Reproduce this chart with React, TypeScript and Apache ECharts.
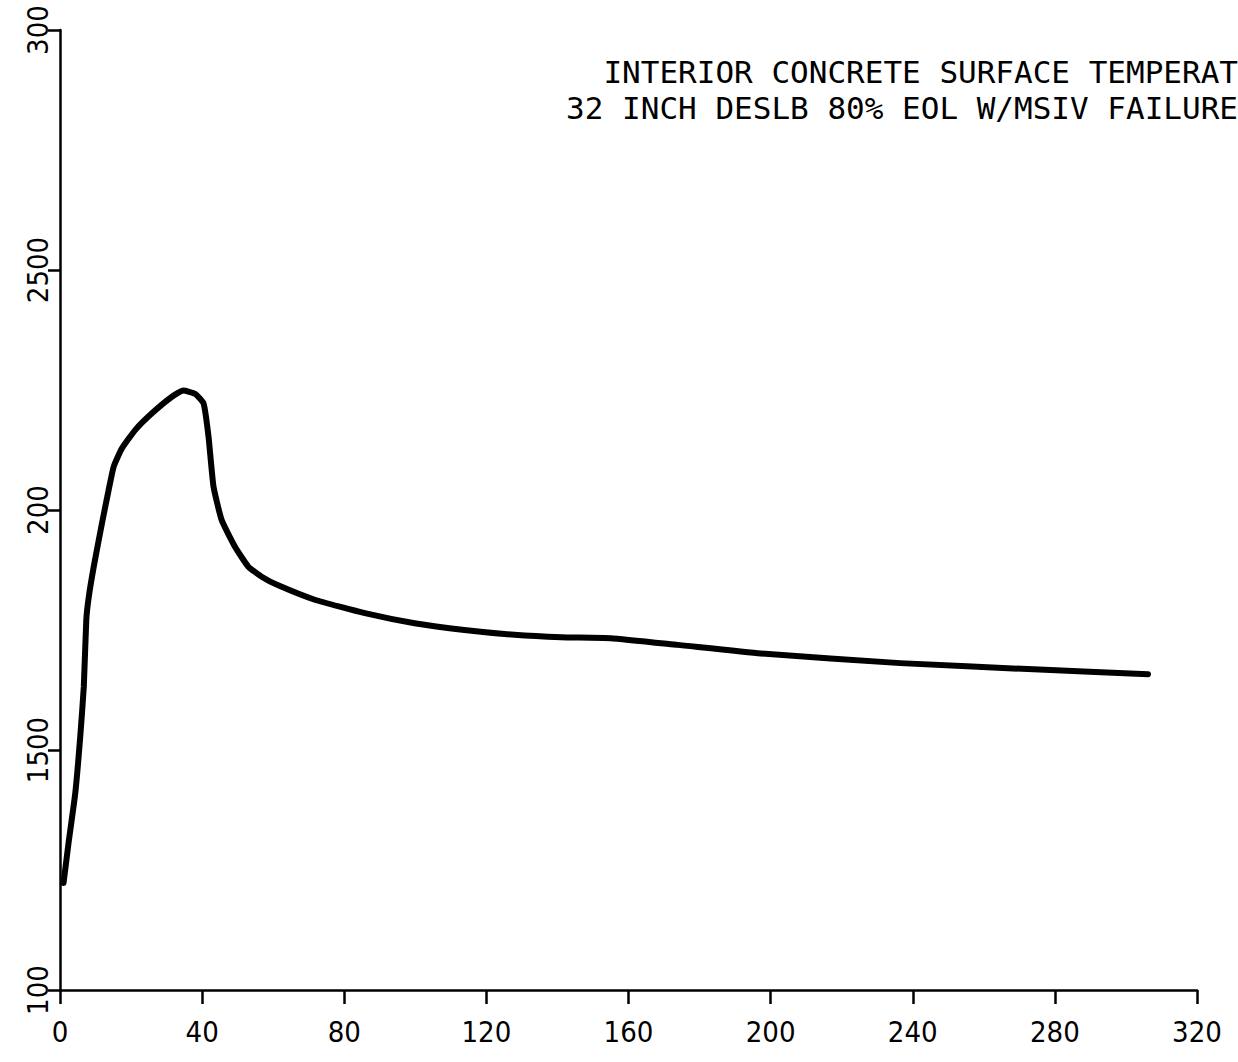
import React, { useEffect, useRef } from "react";
import * as echarts from "echarts";

const timeValues = [1, 2.4, 4.3, 5.7, 6.7, 7.4, 8.1, 9.5, 11.8, 13.7, 15.1, 17.4, 21.2, 25.8, 31.5, 34.7, 38, 40.4, 41.8, 43.2, 45.5, 49.2, 53, 57, 61.4, 71.7, 85.8, 99.8, 113.8, 127.9, 141, 155, 173.8, 197.2, 236.5, 274, 306.2];
const tempValues = [122.3, 130.6, 141, 152.8, 163.2, 177.1, 181.9, 188.2, 197.2, 204.2, 209, 212.8, 216.7, 220.1, 223.6, 224.9, 224.2, 222.2, 215.3, 204.9, 197.9, 192.4, 188.2, 186, 184.3, 181.3, 178.5, 176.4, 175, 174, 173.5, 173.3, 171.9, 170.1, 168.1, 166.8, 165.8];
const yTickValues = [100, 150, 200, 250, 300];
const yTickLabels = ["100", "1500", "200", "2500", "300"];
const xTickValues = [0, 40, 80, 120, 160, 200, 240, 280, 320];
const titleLines = ["INTERIOR CONCRETE SURFACE TEMPERAT", "32 INCH DESLB 80% EOL W/MSIV FAILURE"];

const FONT = "'Liberation Sans Narrow', 'DejaVu Sans Condensed', 'Liberation Sans', sans-serif";
const TITLE_FONT = "'DejaVu Sans Mono', 'Liberation Mono', monospace";

export default function App() {
  const ref = useRef<HTMLDivElement>(null);
  useEffect(() => {
    if (!ref.current) return;
    const chart = echarts.init(ref.current, null, { renderer: "svg" });
    const data = timeValues.map((t, i) => [t, tempValues[i]]);
    chart.setOption({
      animation: false,
      backgroundColor: "#ffffff",
      grid: { left: 60, right: 41, top: 30, bottom: 72, containLabel: false },
      xAxis: {
        type: "value",
        min: 0,
        max: 320,
        interval: 40,
        axisLine: { show: true, lineStyle: { color: "#000", width: 2.5 } },
        axisTick: { show: true, length: 14, lineStyle: { color: "#000", width: 2.5 } },
        splitLine: { show: false },
        axisLabel: {
          color: "#000",
          fontFamily: FONT,
          fontSize: 29,
          margin: 27,
          formatter: (v: number) => (xTickValues.includes(v) ? String(v) : ""),
        },
      },
      yAxis: {
        type: "value",
        min: 100,
        max: 300,
        interval: 50,
        axisLine: { show: true, lineStyle: { color: "#000", width: 2.5 } },
        axisTick: { show: true, length: 12, lineStyle: { color: "#000", width: 2.5 } },
        splitLine: { show: false },
        axisLabel: {
          color: "#000",
          fontFamily: FONT,
          fontSize: 29,
          rotate: 90,
          margin: 8,
          formatter: (v: number) => {
            const i = yTickValues.indexOf(v);
            return i >= 0 ? yTickLabels[i] : "";
          },
        },
      },
      series: [
        {
          type: "line",
          data,
          showSymbol: false,
          smooth: 0.15,
          lineStyle: { color: "#000", width: 6, cap: "round", join: "round" },
        },
      ],
      graphic: [
        {
          type: "text",
          right: 0,
          top: 55,
          style: { text: titleLines[0], fill: "#000", font: `31px ${TITLE_FONT}`, lineHeight: 33, textAlign: "right" },
        },
        {
          type: "text",
          right: 0,
          top: 91,
          style: { text: titleLines[1], fill: "#000", font: `31px ${TITLE_FONT}`, lineHeight: 33, textAlign: "right" },
        },
      ],
    });
    return () => chart.dispose();
  }, []);
  return (
    <div
      ref={ref}
      style={{ position: "absolute", left: 0, top: 0, width: 1238, height: 1062, background: "#fff" }}
    />
  );
}
